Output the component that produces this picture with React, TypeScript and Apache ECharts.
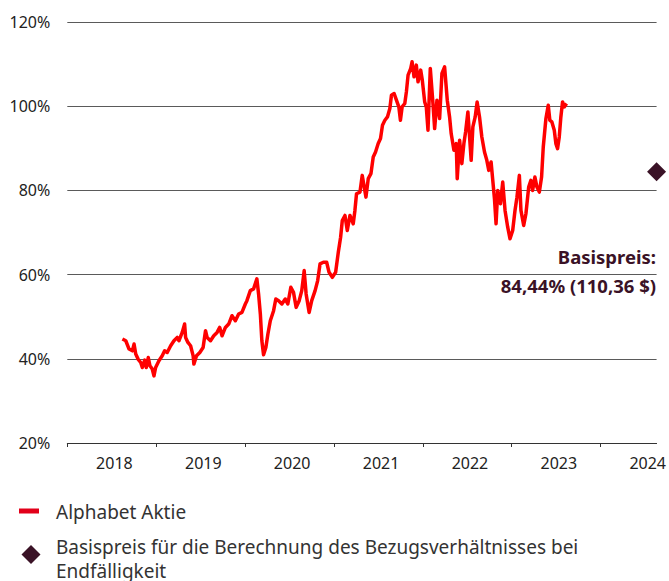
import React, { useEffect, useRef } from "react";
import * as echarts from "echarts";

// Decimal years of the sampled points
const dates: number[] = [
  2018.620, 2018.658, 2018.695, 2018.732, 2018.751, 2018.770, 2018.796, 2018.826, 2018.844, 2018.871,
  2018.889, 2018.911, 2018.930, 2018.956, 2018.975, 2018.994, 2019.031, 2019.068, 2019.095, 2019.124,
  2019.163, 2019.200, 2019.237, 2019.256, 2019.293, 2019.320, 2019.331, 2019.357, 2019.387, 2019.416,
  2019.424, 2019.454, 2019.491, 2019.528, 2019.555, 2019.573, 2019.611, 2019.648, 2019.685, 2019.715,
  2019.741, 2019.779, 2019.816, 2019.853, 2019.891, 2019.928, 2019.965, 2020.003,
  2020.021, 2020.059, 2020.096, 2020.133, 2020.152, 2020.172, 2020.189, 2020.208, 2020.234, 2020.257,
  2020.284, 2020.321, 2020.346, 2020.377, 2020.414, 2020.452, 2020.481, 2020.515, 2020.545, 2020.575,
  2020.609, 2020.638, 2020.665, 2020.687, 2020.721, 2020.750, 2020.788, 2020.817, 2020.844, 2020.881,
  2020.918, 2020.945, 2020.982, 2021.019, 2021.049, 2021.075, 2021.094, 2021.124, 2021.150, 2021.180,
  2021.217, 2021.236, 2021.254, 2021.293, 2021.318, 2021.341, 2021.360, 2021.386, 2021.416, 2021.442,
  2021.468, 2021.498, 2021.524, 2021.546, 2021.573, 2021.602, 2021.629, 2021.647, 2021.677, 2021.703,
  2021.730, 2021.748, 2021.767, 2021.797, 2021.815, 2021.834, 2021.864, 2021.879, 2021.901, 2021.927,
  2021.946, 2021.976, 2021.994,
  2022.021, 2022.039, 2022.058, 2022.084, 2022.114, 2022.133, 2022.159, 2022.189, 2022.215, 2022.245,
  2022.275, 2022.301, 2022.319, 2022.350, 2022.376, 2022.387, 2022.414, 2022.439, 2022.462, 2022.481,
  2022.507, 2022.526, 2022.544, 2022.563, 2022.589, 2022.611, 2022.638, 2022.664, 2022.694, 2022.720,
  2022.742, 2022.768, 2022.787, 2022.806, 2022.824, 2022.843, 2022.873, 2022.899, 2022.925, 2022.955,
  2022.981, 2023.011, 2023.037, 2023.059, 2023.086, 2023.104, 2023.135, 2023.160, 2023.191, 2023.216,
  2023.235, 2023.261, 2023.284, 2023.311, 2023.336, 2023.355, 2023.385, 2023.411, 2023.429, 2023.452,
  2023.479, 2023.497, 2023.516, 2023.535, 2023.553, 2023.572, 2023.591, 2023.617,
];

// Alphabet share price relative to the reference price, in %
const alphabetPct: number[] = [
  44.69, 44.29, 42.31, 41.90, 43.50, 41.12, 39.93, 39.12, 37.93, 39.69,
  37.93, 40.31, 38.33, 37.55, 35.95, 37.93, 39.52, 40.71, 41.90, 41.50,
  43.10, 44.29, 45.07, 44.29, 46.26, 48.26, 45.07, 43.88, 43.10, 40.71,
  38.74, 40.71, 41.50, 42.69, 46.67, 45.07, 44.29, 45.48, 46.26, 47.45,
  45.48, 47.45, 48.26, 50.24, 49.05, 50.64, 51.02, 53.02,
  53.81, 56.19, 56.60, 58.98, 55.40, 50.64, 44.29, 40.95, 42.69, 45.88,
  49.05, 51.43, 54.21, 53.81, 53.02, 54.21, 53.02, 56.98, 55.79, 52.21,
  53.81, 56.19, 60.95, 55.40, 51.02, 53.81, 56.19, 58.57, 62.55, 62.93,
  62.93, 60.55, 59.36, 60.55, 65.31, 68.88, 72.86, 74.05, 70.48, 74.05,
  72.07, 75.24, 79.21, 79.60, 83.57, 80.79, 78.40, 82.79, 83.98, 87.93,
  89.12, 91.12, 92.31, 95.48, 96.67, 97.45, 99.45, 102.62, 103.02, 101.43,
  99.83, 96.67, 99.83, 100.64, 103.40, 107.38, 108.98, 110.55, 106.98, 109.76,
  105.79, 108.57, 106.19,
  101.02, 99.83, 94.29, 108.98, 100.64, 94.69, 101.43, 97.07, 107.79, 109.36,
  101.43, 97.45, 93.50, 89.52, 91.12, 82.79, 91.90, 86.36, 91.12, 93.88,
  98.64, 92.69, 87.14, 95.07, 97.45, 101.02, 97.45, 92.69, 89.12, 87.14,
  84.76, 86.74, 82.38, 78.02, 72.07, 80.00, 76.83, 81.98, 75.24, 71.26,
  68.50, 70.48, 75.24, 78.40, 83.57, 75.24, 71.67, 74.45, 80.79, 82.38,
  80.00, 83.17, 80.79, 79.60, 83.17, 90.31, 97.07, 100.24, 96.67, 96.26,
  94.29, 91.12, 89.93, 92.69, 97.45, 101.02, 99.83, 100.64,
];

const yearTicks: number[] = [2018, 2019, 2020, 2021, 2022, 2023, 2024];
const yearLabelPos: number[] = [2018.53, 2019.53, 2020.53, 2021.53, 2022.53, 2023.53, 2024.53];
const xMin = 2018;
const xMax = 2024.63; // maturity date (end of axis)
const yMin = 20;
const yMax = 120;
const yStep = 20;

const strikePct = 84.44;
const strikePrice = 110.36;

const seriesName = "Alphabet Aktie";
const strikeLegend = [
  "Basispreis für die Berechnung des Bezugsverhältnisses bei",
  "Endfälligkeit",
];

const FONT = "'Noto Sans', sans-serif";
const RED = "#ff0000";
const LEGEND_RED = "#e2001a";
const MAROON = "#3a1226";

export default function App() {
  const ref = useRef<HTMLDivElement>(null);

  useEffect(() => {
    if (!ref.current) return;
    const chart = echarts.init(ref.current, null, { renderer: "svg" });
    const lineData = dates.map((d, i) => [d, alphabetPct[i]]);
    const fmt = (v: number) => v.toFixed(2).replace(".", ",");

    chart.setOption({
      animation: false,
      textStyle: { fontFamily: FONT },
      grid: { left: 67.3, right: 9.5, top: 22, bottom: 138, containLabel: false },
      xAxis: {
        type: "value",
        min: xMin,
        max: xMax,
        axisLine: { show: true, onZero: false, lineStyle: { color: "#333", width: 1 } },
        axisTick: {
          show: true,
          length: 4,
          customValues: yearTicks,
          lineStyle: { color: "#333", width: 1 },
        },
        axisLabel: {
          customValues: yearLabelPos,
          formatter: (v: number) => String(Math.floor(v)),
          fontSize: 16,
          color: "#222",
          fontFamily: FONT,
          margin: 12,
        },
        splitLine: { show: false },
      },
      yAxis: {
        type: "value",
        min: yMin,
        max: yMax,
        interval: yStep,
        axisLine: { show: false },
        axisTick: { show: false },
        axisLabel: {
          formatter: "{value}%",
          fontSize: 16,
          color: "#222",
          fontFamily: FONT,
          margin: 17,
        },
        splitLine: { show: true, lineStyle: { color: "#5a5a5a", width: 1 } },
      },
      series: [
        {
          name: seriesName,
          type: "line",
          data: lineData,
          showSymbol: false,
          symbol: "none",
          lineStyle: { color: RED, width: 3.5, join: "round" },
          z: 3,
        },
        {
          name: "Basispreis",
          type: "scatter",
          data: [[xMax, strikePct]],
          symbol: "diamond",
          symbolSize: [19, 19],
          itemStyle: { color: MAROON, opacity: 1 },
          clip: false,
          z: 4,
        },
      ],
      graphic: [
        {
          type: "text",
          x: 656,
          y: 256,
          style: {
            text: "Basispreis:",
            align: "right",
            verticalAlign: "middle",
            font: `bold 18.5px ${FONT}`,
            fill: MAROON,
          },
        },
        {
          type: "text",
          x: 656,
          y: 285,
          style: {
            text: `${fmt(strikePct)}% (${fmt(strikePrice)} $)`,
            align: "right",
            verticalAlign: "middle",
            font: `bold 18.5px ${FONT}`,
            fill: MAROON,
          },
        },
        {
          type: "rect",
          shape: { x: 19, y: 508.5, width: 20, height: 5 },
          style: { fill: LEGEND_RED },
        },
        {
          type: "text",
          x: 56,
          y: 511.5,
          style: {
            text: seriesName,
            align: "left",
            verticalAlign: "middle",
            font: `19px ${FONT}`,
            fill: "#333",
          },
        },
        {
          type: "polygon",
          shape: { points: [[31, 545], [40.5, 554.5], [31, 564], [21.5, 554.5]] },
          style: { fill: MAROON },
        },
        {
          type: "text",
          x: 56,
          y: 547,
          style: {
            text: strikeLegend[0],
            align: "left",
            verticalAlign: "middle",
            font: `19px ${FONT}`,
            fill: "#333",
          },
        },
        {
          type: "text",
          x: 56,
          y: 571,
          style: {
            text: strikeLegend[1],
            align: "left",
            verticalAlign: "middle",
            font: `19px ${FONT}`,
            fill: "#333",
          },
        },
      ],
    });

    return () => chart.dispose();
  }, []);

  return (
    <div
      ref={ref}
      style={{ position: "absolute", left: 0, top: 0, width: 669, height: 581 }}
    />
  );
}
